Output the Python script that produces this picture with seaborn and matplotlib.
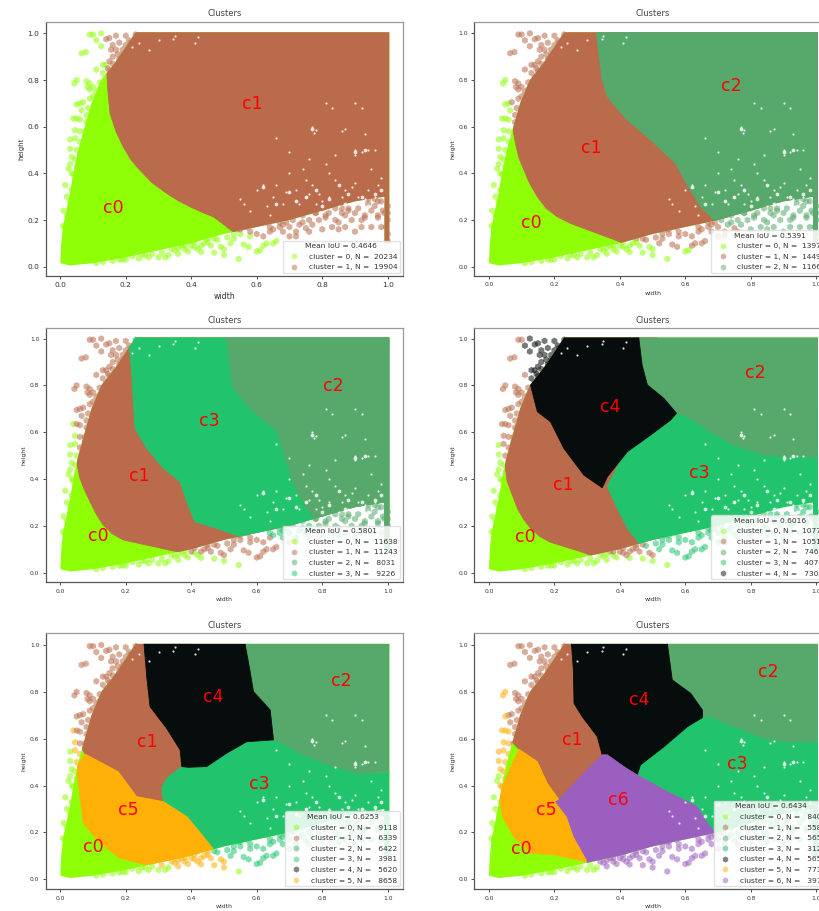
import numpy as np
import pandas as pd
import matplotlib
matplotlib.use("Agg")
import matplotlib.pyplot as plt
from matplotlib.lines import Line2D
from matplotlib.patches import PathPatch
from matplotlib.path import Path
import seaborn as sns

sns.set_theme(style="ticks")
plt.rcParams["font.family"] = ["DejaVu Sans"]

cluster_colors = ["#8FFF08", "#B96B4B", "#57A96B", "#21C46D", "#070C0C", "#FFB007", "#9B5FC0"]

mean_iou = [0.4646, 0.5391, 0.5801, 0.6016, 0.6253, 0.6434]
counts = [
    [20234, 19904],
    [13978, 14491, 11669],
    [11638, 11243, 8031, 9226],
    [10778, 10513, 7466, 4076, 7305],
    [9118, 6339, 6422, 3981, 5620, 8658],
    [8409, 5584, 5652, 3128, 5656, 7733, 3976],
]

# Cluster centres, read from the c0..c6 labels
centres_1 = [(.131, .229), (.554, .676)]
centres_2 = [(.097, .164), (.282, .486), (.71, .754)]
centres_3 = [(.084, .137), (.211, .393), (.803, .778), (.424, .625)]
centres_4 = [(.081, .13), (.197, .355), (.781, .833), (.612, .406), (.339, .688)]
centres_5 = [(.07, .118), (.233, .563), (.827, .825), (.577, .384), (.437, .755), (.177, .275)]
centres_6 = [(.069, .108), (.222, .575), (.823, .865), (.726, .472), (.428, .745), (.145, .275), (.365, .316)]
centres = [centres_1, centres_2, centres_3, centres_4, centres_5, centres_6]

# Outline of the densely filled part of the cloud
hull = [(0, .015), (.003, .1), (.008, .17), (.02, .25), (.03, .32), (.04, .4), (.055, .5), (.075, .6),
        (.095, .7), (.125, .8), (.17, .88), (.23, 1.005), (1.005, 1.005), (1.005, .1), (.99, .1), (.99, .3),
        (.9, .28), (.8, .24), (.7, .2), (.6, .17), (.5, .14), (.4, .1), (.3, .07), (.2, .04), (.1, .015),
        (.03, .005)]

plane = [(-.2, -.2), (1.2, -.2), (1.2, 1.2), (-.2, 1.2)]

# Dense region of each cluster per panel (cluster index, outline)
p1_regions = [
    (0, plane),
    (1, [(.13, 1.1), (.142, .829), (.146, .74), (.152, .657), (.17, .58), (.192, .514), (.215, .46), (.243, .414),
         (.28, .36), (.325, .314), (.36, .283), (.396, .257), (.43, .235), (.467, .214), (.5, .18), (.523, .154),
         (.6, .1), (1.1, .1), (1.1, 1.1)]),
]
p2_regions = [
    (0, plane),
    (1, [(.05, 1.1), (.06, .8), (.065, .7), (.07, .62), (.081, .529), (.092, .465), (.107, .414), (.125, .355),
         (.148, .3), (.175, .25), (.209, .214), (.25, .185), (.29, .164), (.392, .111), (.5, .05), (1.1, .05),
         (1.1, 1.1)]),
    (2, [(.328, 1.1), (.328, 1.0), (.346, .8), (.362, .729), (.39, .68), (.423, .629), (.494, .543), (.57, .443),
         (.606, .35), (.647, .257), (.708, .171), (.8, .1), (1.1, .1), (1.1, 1.1)]),
]
p3_regions = [
    (0, plane),
    (1, [(0, 1.1), (.035, .66), (.045, .6), (.05, .47), (.06, .403), (.075, .35), (.091, .303), (.11, .25),
         (.131, .204), (.16, .165), (.192, .14), (.264, .118), (.345, .093), (.4, .08), (1.1, .05), (1.1, 1.1)]),
    (3, [(.208, 1.1), (.208, 1.0), (.218, .859), (.228, .617), (.264, .531), (.315, .446), (.366, .389),
         (.386, .303), (.411, .218), (.478, .189), (.549, .154), (.7, .1), (1.1, .1), (1.1, 1.1)]),
    (2, [(.508, 1.1), (.508, 1.0), (.528, .788), (.589, .688), (.661, .61), (.691, .474), (.717, .367),
         (.752, .275), (.834, .147), (1.1, .1), (1.1, 1.1)]),
]
p4_regions = [
    (0, plane),
    (1, [(0, 1.1), (.035, .6), (.045, .5), (.056, .389), (.087, .275), (.105, .23), (.127, .19), (.155, .155),
         (.188, .13), (.28, .09), (.34, .06), (.5, .05), (.6, .3), (.5, 1.1)]),
    (3, [(.362, .368), (.392, .275), (.423, .19), (.463, .118), (.514, .06), (1.1, .06), (1.1, .7), (.5, .75)]),
    (2, [(.458, 1.1), (.458, 1.0), (.468, .887), (.484, .802), (.534, .745), (.573, .681), (.606, .667),
         (.677, .603), (.748, .546), (.84, .503), (.93, .495), (1.1, .495), (1.1, 1.1)]),
    (4, [(.08, 1.1), (.127, .802), (.148, .688), (.188, .645), (.229, .531), (.29, .417), (.346, .363),
         (.362, .41), (.423, .517), (.494, .588), (.555, .652), (.573, .681), (.534, .745), (.484, .802),
         (.468, .887), (.458, 1.0), (.458, 1.1)]),
]
p5_regions = [
    (0, plane),
    (1, [(0, 1.1), (.03, .8), (.05, .6), (.075, .535), (.177, .459), (.233, .353), (.315, .331), (.4, .35),
         (.4, 1.1)]),
    (3, [(.315, .331), (.31, .388), (.325, .431), (.371, .481), (.391, .478), (.447, .481), (.508, .538),
         (.569, .587), (.651, .595), (.671, .587), (.732, .538), (.834, .481), (.915, .452), (1.1, .459),
         (1.1, -.1), (.6, -.1), (.478, .11), (.437, .182), (.387, .267)]),
    (2, [(.564, 1.1), (.564, 1.007), (.579, .893), (.59, .801), (.641, .723), (.651, .595), (.671, .587),
         (.732, .538), (.834, .481), (.915, .452), (1.007, .459), (1.1, .459), (1.1, 1.1)]),
    (4, [(.256, 1.1), (.256, 1.0), (.264, .865), (.274, .737), (.325, .644), (.366, .552), (.371, .481),
         (.391, .478), (.447, .481), (.508, .538), (.569, .587), (.651, .595), (.641, .723), (.59, .801),
         (.579, .893), (.564, 1.007), (.564, 1.1)]),
    (5, [(.075, .535), (.05, .48), (.06, .353), (.07, .239), (.121, .154), (.182, .09), (.243, .068), (.3, .05),
         (.55, .02), (.478, .11), (.437, .182), (.387, .267), (.315, .331), (.233, .353), (.177, .459)]),
]
p6_regions = [
    (0, plane),
    (1, [(0, 1.1), (.03, .8), (.06, .6), (.092, .555), (.148, .502), (.178, .41), (.214, .339), (.27, .424),
         (.346, .531), (.331, .609), (.285, .694), (.26, .751), (.258, .893), (.252, 1.007), (.252, 1.1)]),
    (3, [(.453, .445), (.463, .488), (.535, .566), (.606, .651), (.652, .69), (.677, .694), (.738, .659),
         (.84, .602), (.911, .587), (1.1, .587), (1.1, .1), (.75, .1), (.708, .168), (.667, .239), (.636, .31),
         (.535, .381)]),
    (2, [(.545, 1.1), (.545, 1.0), (.56, .851), (.616, .794), (.652, .723), (.652, .69), (.677, .694),
         (.738, .659), (.84, .602), (.911, .587), (1.008, .587), (1.1, .587), (1.1, 1.1)]),
    (4, [(.252, 1.1), (.252, 1.007), (.258, .893), (.26, .751), (.285, .694), (.331, .609), (.346, .531),
         (.362, .531), (.412, .481), (.453, .445), (.463, .488), (.535, .566), (.606, .651), (.652, .69),
         (.652, .723), (.616, .794), (.56, .851), (.545, 1.007), (.545, 1.1)]),
    (5, [(.092, .555), (.06, .46), (.03, .36), (.041, .267), (.076, .182), (.127, .111), (.199, .104),
         (.295, .075), (.3, .082), (.26, .182), (.239, .267), (.204, .331), (.214, .339), (.178, .41),
         (.148, .502)]),
    (6, [(.204, .331), (.214, .339), (.27, .424), (.346, .531), (.362, .531), (.412, .481), (.453, .445),
         (.535, .381), (.636, .31), (.667, .239), (.708, .168), (.75, .1), (.7, -.1), (.3, -.1), (.3, .082),
         (.26, .182), (.239, .267)]),
]
regions = [p1_regions, p2_regions, p3_regions, p4_regions, p5_regions, p6_regions]

# Sparse outlying boxes (same data set in all panels)
sparse_width = [.09, .1, .125, .11, .125, .065, .078, .13, .14, .11, .05, .043, .08, .09, .1, .083, .09, .12, .13, .14,
                .06, .07, .05, .09, .1, .085, .065, .04, .05, .06, .08, .045, .06, .075, .03, .045, .06, .05, .03, .035,
                .045, .03, .025, .04, .015, .02, .01, .008, .15, .16, .17, .18, .155, .14, .16, .19, .15, .2, .21, .23,
                .175, .195, .215, .545, .5, .47, .43, .42, .39, .35, .3, .27, .26, .24, .2, .18, .32, .33, .36, .37,
                .5, .49, .46, .52, .48, .53, .56, .575, .6, .61, .62, .63, .65, .66, .7, .72, .76, .6, .62, .64,
                .68, .72, .75, .77, .8, .83, .85, .87, .9, .92, .95, .98, .99, .95, .92, .89, .91, .96, .87, .84,
                .82, .79, .76, .73, .7, .68, .65, 1.0, 1.0, .995, 1.0, 1.0, 1.0, .97, .93, .88, .85, .81, .78, .74,
                .55, .58, .67, .44, .41, .45, .4, .38, .54, .57, .59, .69, .71, .75, .86, .94, .97, .78, .83, .9,
                .55, .57, .59, .61, .63, .66, .68, .7, .72, .74, .76, .78, .8, .82, .84, .86, .88, .9, .92, .94,
                .96, .98, .985, .64, .67, .69, .71, .74, .78, .81, .86, .9, .93, .97, .58, .53, .51, .47, .45, .43,
                .41, .38, .36, .34, .31, .28, .25, .22, .19, .16, .13, .11, .13, .145, .16, .18, .15, .17, .19, .21,
                .2, .22, .24, .26, .17, .2, .12, .13, .115, .105, .095, .085, .075, .07, .06, .05, .045, .035, .03, .02,
                .015, .1, .11, .08, .07, .035]
sparse_height = [.995, .995, 1.0, .97, .945, .915, .92, .865, .865, .845, .8, .785, .795, .785, .77, .77, .76, .76, .78, .81,
                 .7, .705, .695, .72, .73, .68, .67, .635, .635, .63, .62, .585, .58, .56, .545, .55, .535, .5, .505, .47,
                 .46, .44, .42, .395, .35, .3, .24, .175, .98, .95, .99, .96, .93, .975, .9, .93, .88, .99, .97, .995,
                 .91, .9, .96, .033, .05, .06, .063, .075, .065, .07, .04, .04, .05, .035, .03, .03, .04, .05, .055, .09,
                 .075, .085, .09, .1, .115, .12, .095, .085, .065, .07, .09, .1, .1, .11, .13, .13, .15, .14, .13, .15,
                 .15, .15, .165, .18, .16, .17, .16, .17, .15, .17, .17, .17, .23, .24, .2, .2, .25, .26, .22, .2,
                 .23, .2, .2, .18, .17, .18, .16, .14, .11, .17, .2, .23, .26, .22, .21, .24, .19, .21, .23, .24,
                 .14, .13, .19, .1, .085, .12, .09, .075, .16, .17, .19, .21, .22, .24, .25, .29, .28, .26, .27, .31,
                 .16, .18, .19, .2, .19, .21, .22, .22, .24, .22, .25, .26, .25, .27, .25, .29, .25, .3, .3, .27,
                 .29, .28, .24, .17, .17, .19, .2, .19, .23, .22, .23, .23, .22, .21, .15, .14, .125, .12, .105, .09,
                 .105, .09, .08, .075, .06, .055, .05, .045, .03, .025, .02, .015, .83, .85, .87, .89, .84, .85, .91, .94,
                 .87, .96, .98, .99, .93, .95, .79, .74, .72, .68, .65, .61, .58, .53, .48, .43, .37, .33, .28, .22,
                 .17, .63, .75, .65, .51, .4]

# Small white holes left in the filled part of the cloud
gap_width = [.77, .78, .775, .93, .94, .96, .9, .92, .9, .55, .62, .6, .66, .65, .72, .75, .76, .78, .8, .82, .85, .88,
             .91, .87, .94, .97, .9, .75, .7, .82, .84, .76, .84, .7, .66, .86, .92, .87, .42, .345, .3, .22, .24, .83,
             .81, .9, .58, .63, .68, .73, .79, .86, .89, .93, .96, .98, .69, .74, .81, .77, .95, .35, .27, .41, .56, .64]
gap_height = [.6, .585, .575, .57, .5, .5, .5, .49, .48, .29, .35, .33, .35, .3, .33, .3, .31, .27, .28, .3, .26, .27,
              .3, .33, .33, .35, .36, .37, .4, .4, .37, .46, .48, .49, .55, .58, .68, .59, .985, .975, .97, .94, .96, .68,
              .7, .7, .24, .26, .27, .27, .31, .3, .34, .29, .3, .38, .32, .42, .44, .35, .42, .99, .93, .96, .27, .22]

# Larger clumps of holes in the lower right
hole_width = [.77, .93, .9, .62, .75, .82, .87, .92, .96, .7, .66, .78, .85, .94, .98, .72, .8, .88]
hole_height = [.59, .5, .49, .34, .3, .29, .27, .3, .31, .32, .27, .33, .35, .26, .33, .28, .26, .31]

# Pixel frames of the six panels: left, top, right, bottom
col_left = [45.7, 474.3]
col_right = [403.0, 831.6]
row_top = [21.7, 328.3, 633.3]
row_bottom = [276.0, 582.3, 889.3]
row_ylim = [(-.04, 1.05), (-.041, 1.044), (-.043, 1.05)]
FIG_W, FIG_H = 820, 911


def iou_labels(ws, hs, cs):
    ws, hs = np.asarray(ws), np.asarray(hs)
    best = []
    for cw, ch in cs:
        inter = np.minimum(ws, cw) * np.minimum(hs, ch)
        best.append(inter / (ws * hs + cw * ch - inter))
    return np.argmax(best, axis=0)


fig = plt.figure(figsize=(FIG_W / 100, FIG_H / 100), dpi=100)
for i in range(6):
    row, col = i // 2, i % 2
    ax = fig.add_axes([col_left[col] / FIG_W, 1 - row_bottom[row] / FIG_H,
                       (col_right[col] - col_left[col]) / FIG_W, (row_bottom[row] - row_top[row]) / FIG_H])
    ax.set_xlim(-.0446, 1.0467)
    ax.set_ylim(*row_ylim[row])

    frame = pd.DataFrame({"width": sparse_width, "height": sparse_height})
    frame["cluster"] = iou_labels(sparse_width, sparse_height, centres[i])
    sns.scatterplot(data=frame, x="width", y="height", hue="cluster", palette=dict(enumerate(cluster_colors)),
                    marker="h", s=24, alpha=.55, linewidth=0, legend=False, ax=ax, zorder=2)

    clip = PathPatch(Path(hull + [hull[0]]), transform=ax.transData, fc="none", ec="none")
    ax.add_patch(clip)
    for cluster, outline in regions[i]:
        xs, ys = zip(*outline)
        for poly in ax.fill(xs, ys, color=cluster_colors[cluster], lw=.6, zorder=3):
            poly.set_clip_path(clip)

    sns.scatterplot(x=gap_width, y=gap_height, color="white", marker="h", s=3, alpha=.85, linewidth=0,
                    legend=False, ax=ax, zorder=4)
    sns.scatterplot(x=hole_width, y=hole_height, color="white", marker="h", s=9, alpha=.8, linewidth=0,
                    legend=False, ax=ax, zorder=4)

    for k, (cw, ch) in enumerate(centres[i]):
        ax.text(cw, ch, f"c{k}", color="red", fontsize=12.5, zorder=6)

    handles = [Line2D([], [], ls="", marker="h", ms=4.5, mew=0, color=cluster_colors[k], alpha=.5,
                      label=f"cluster = {k}, N = {n:6d}") for k, n in enumerate(counts[i])]
    leg = ax.legend(handles=handles, title=f"Mean IoU = {mean_iou[i]:.4f}", loc="lower right", fontsize=5.4,
                    title_fontsize=5.4, frameon=True, framealpha=.85, labelspacing=.58, borderpad=.35,
                    edgecolor="#dddddd", fancybox=True, borderaxespad=.4, handlelength=2.3)
    leg.set_zorder(7)
    for t in leg.get_texts():
        t.set_color("#333333")
    leg.get_title().set_color("#333333")

    big = i == 0
    ax.set_title("Clusters", fontsize=6, color="#444444", pad=4)
    ax.set_xlabel("width", fontsize=5.6 if big else 4.4, color="#333333", labelpad=2.5)
    ax.set_ylabel("height", fontsize=5 if big else 4.4, color="#333333", labelpad=2.5)
    ax.set_xticks([0, .2, .4, .6, .8, 1.0])
    ax.set_yticks([0, .2, .4, .6, .8, 1.0])
    ax.tick_params(labelsize=5.3 if big else 4.3, length=2, width=.6, pad=2.5, colors="#333333")
    for side, spine in ax.spines.items():
        spine.set_visible(True)
        spine.set_linewidth(.9)
        spine.set_color("#555555" if side in ("left", "bottom") else "#999999")

fig.savefig("out.png", dpi=100)
